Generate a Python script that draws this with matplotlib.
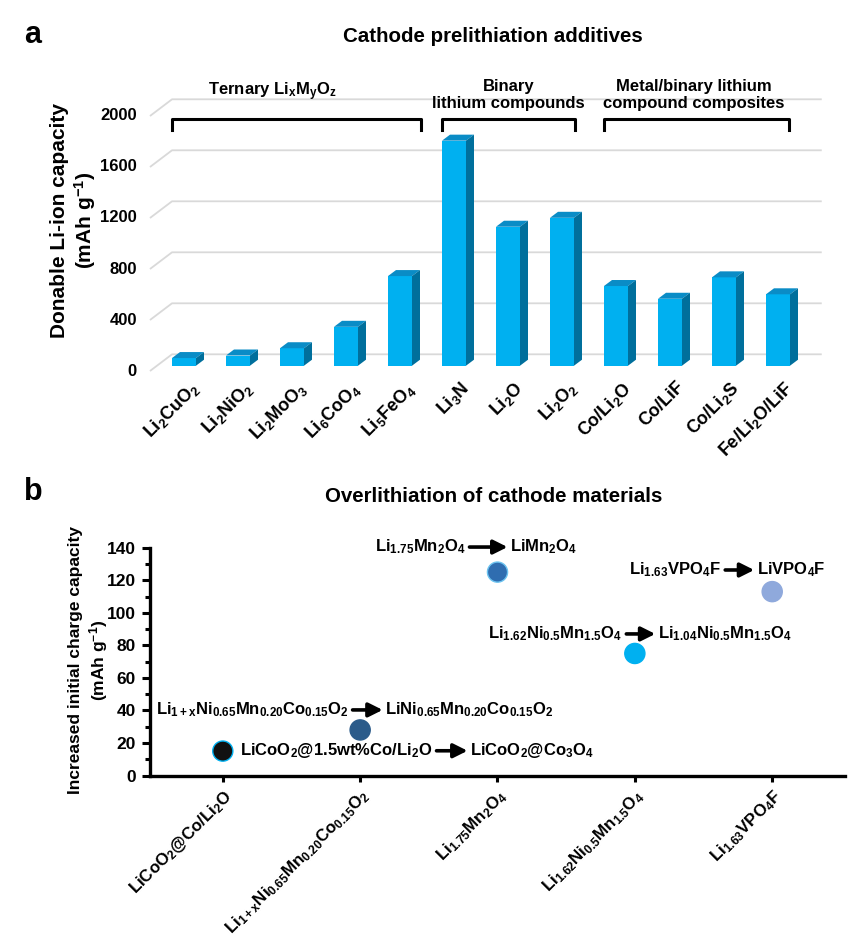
import matplotlib
matplotlib.use('Agg')
import matplotlib.pyplot as plt
from matplotlib.patches import Polygon
from matplotlib.ticker import MultipleLocator

plt.rcParams['font.family'] = ['Liberation Sans', 'DejaVu Sans']
plt.rcParams['font.weight'] = 'bold'
plt.rcParams['mathtext.fontset'] = 'custom'
plt.rcParams['mathtext.rm'] = 'Liberation Sans:bold'
plt.rcParams['mathtext.bf'] = 'Liberation Sans:bold'
plt.rcParams['mathtext.it'] = 'Liberation Sans:bold:italic'
plt.rcParams['mathtext.default'] = 'bf'

# ---------------- data (panel a) ----------------
additives = [r'Li$_2$CuO$_2$', r'Li$_2$NiO$_2$', r'Li$_2$MoO$_3$', r'Li$_6$CoO$_4$',
             r'Li$_5$FeO$_4$', r'Li$_3$N', r'Li$_2$O', r'Li$_2$O$_2$',
             r'Co/Li$_2$O', r'Co/LiF', r'Co/Li$_2$S', r'Fe/Li$_2$O/LiF']
capacity = [60, 80, 137, 305, 703, 1765, 1090, 1160, 625, 525, 693, 560]
yticks_a = [0, 400, 800, 1200, 1600, 2000]
group_names = [r'Ternary Li$_x$M$_y$O$_z$', 'Binary\nlithium compounds',
               'Metal/binary lithium\ncompound composites']
group_first = [0, 5, 8]
group_last = [4, 7, 11]

# ---------------- data (panel b) ----------------
materials = [r'LiCoO$_2$@Co/Li$_2$O',
             r'Li$_{1+x}$Ni$_{0.65}$Mn$_{0.20}$Co$_{0.15}$O$_2$',
             r'Li$_{1.75}$Mn$_2$O$_4$',
             r'Li$_{1.62}$Ni$_{0.5}$Mn$_{1.5}$O$_4$',
             r'Li$_{1.63}$VPO$_4$F']
overlith = [15, 28, 125, 75, 113]
point_colors = ['#111111', '#2b5b8a', '#2f6db0', '#00b0f0', '#8fa9dc']
point_edges = ['#00b0f0', '#2b5b8a', '#6cc3f0', '#00b0f0', '#8fa9dc']
reaction_from = [r'LiCoO$_2$@1.5wt%Co/Li$_2$O',
                 r'Li$_{1+x}$Ni$_{0.65}$Mn$_{0.20}$Co$_{0.15}$O$_2$',
                 r'Li$_{1.75}$Mn$_2$O$_4$',
                 r'Li$_{1.62}$Ni$_{0.5}$Mn$_{1.5}$O$_4$',
                 r'Li$_{1.63}$VPO$_4$F']
reaction_to = [r'LiCoO$_2$@Co$_3$O$_4$',
               r'LiNi$_{0.65}$Mn$_{0.20}$Co$_{0.15}$O$_2$',
               r'LiMn$_2$O$_4$',
               r'Li$_{1.04}$Ni$_{0.5}$Mn$_{1.5}$O$_4$',
               r'LiVPO$_4$F']
yticks_b = [0, 20, 40, 60, 80, 100, 120, 140]

# ---------------- layout ----------------
W, H = 864, 942
fig = plt.figure(figsize=(W / 100, H / 100), dpi=100)


def fx(px):
    return px / W


def fy(py):
    return 1 - py / H


# ---------- panel a : pseudo-3D column chart ----------
ax1 = fig.add_axes([fx(140), fy(372), fx(830) - fx(140), fy(70) - fy(372)])
ax1.set_xlim(-0.8148, 11.963)
ax1.set_ylim(-49.4, 2319.2)
ax1.axis('off')

PXX = 1 / 54.0      # categories per pixel
PXY = 1 / 0.1275    # value units per pixel

wall_dy = 11.4 * PXY
front_dx, front_dy = -0.63, -5.3 * PXY
wall_x0, wall_x1 = -0.222, 11.81
for v in yticks_a:
    ax1.plot([front_dx, wall_x0, wall_x1], [v + front_dy, v + wall_dy, v + wall_dy],
             color='#d9d9d9', lw=1.3, zorder=0, solid_capstyle='butt')
    ax1.text(front_dx - 13 * PXX, v + front_dy, str(v), ha='right', va='center',
             fontsize=12)

bw = 24 * PXX
ddx, ddy = 8 * PXX, 6 * PXY
for i, v in enumerate(capacity):
    ax1.bar(i, v, width=bw, color='#00b0f0', edgecolor='none', zorder=3)
    top = Polygon([(i - bw / 2, v), (i + bw / 2, v), (i + bw / 2 + ddx, v + ddy),
                   (i - bw / 2 + ddx, v + ddy)], closed=True, fc='#0a8cc6', ec='none', zorder=3)
    side = Polygon([(i + bw / 2, 0), (i + bw / 2, v), (i + bw / 2 + ddx, v + ddy),
                    (i + bw / 2 + ddx, ddy)], closed=True, fc='#006f9c', ec='none', zorder=3)
    ax1.add_patch(top)
    ax1.add_patch(side)
    ax1.text(i + 0.1, -100, additives[i], rotation=45, ha='right', va='top',
             rotation_mode='anchor', fontsize=13)

# group brackets
br_right = [4.38, 7.24, 11.21]
br_y, br_tip = 1932, 1849
for k, name in enumerate(group_names):
    x0 = group_first[k] - 0.222
    x1 = br_right[k]
    ax1.plot([x0, x0, x1, x1], [br_tip, br_y, br_y, br_tip], color='black', lw=2.2,
             solid_joinstyle='round', clip_on=False, zorder=4)
    xc = (x0 + x1) / 2
    if k == 0:
        ax1.text(1.64, 2147, name, ha='center', va='center', fontsize=12)
    else:
        ax1.text(xc + (0.0 if k == 1 else -0.05), 2123, name, ha='center', va='center',
                 fontsize=12, linespacing=1.15)

fig.text(fx(74), fy(220), 'Donable Li-ion capacity\n(mAh g$^{-1}$)', rotation=90,
         ha='center', va='center', fontsize=15, linespacing=1.15)
fig.text(fx(24), fy(35), 'a', fontsize=22, ha='left', va='center')
fig.text(fx(493), fy(36), 'Cathode prelithiation additives', fontsize=14.8,
         ha='center', va='center')

# ---------- panel b : scatter ----------
ax2 = fig.add_axes([fx(150), fy(775.5), fx(845) - fx(150), fy(547.7) - fy(775.5)])
xs = list(range(1, len(materials) + 1))
ax2.scatter(xs, overlith, s=210, c=point_colors, edgecolors=point_edges, linewidths=1.0,
            zorder=3, clip_on=False)
ax2.set_xlim(0.47, 5.53)
ax2.set_ylim(0, 140)
for s in ['top', 'right']:
    ax2.spines[s].set_visible(False)
for s in ['left', 'bottom']:
    ax2.spines[s].set_linewidth(2.4)
ax2.set_yticks(yticks_b)
ax2.yaxis.set_minor_locator(MultipleLocator(10))
ax2.tick_params(axis='y', which='major', length=6, width=2.2, labelsize=12.5, pad=4)
ax2.tick_params(axis='y', which='minor', length=3.6, width=2.2)
ax2.set_xticks(xs)
ax2.set_xticklabels(materials, rotation=45, ha='right', rotation_mode='anchor', fontsize=12.2)
ax2.tick_params(axis='x', which='major', length=4, width=2.2, pad=4)

arrow_start = [2.556, 1.945, 2.796, 3.938, 4.658]
arrow_end = [2.782, 2.164, 3.073, 4.149, 4.869]
arrow_y = [15.2, 40.3, 140.4, 87.0, 126.3]
for k in range(len(reaction_from)):
    y = arrow_y[k]
    ax2.annotate('', xy=(arrow_end[k], y), xytext=(arrow_start[k], y),
                 arrowprops=dict(arrowstyle='-|>', lw=2.6, color='black',
                                 mutation_scale=21, shrinkA=0, shrinkB=0),
                 annotation_clip=False)
    ax2.annotate(reaction_from[k], xy=(arrow_start[k], y), xytext=(-3, 0),
                 textcoords='offset points', ha='right', va='center', fontsize=12,
                 annotation_clip=False)
    ax2.annotate(reaction_to[k], xy=(arrow_end[k], y), xytext=(2, 0),
                 textcoords='offset points', ha='left', va='center', fontsize=12,
                 annotation_clip=False)

fig.text(fx(89), fy(660), 'Increased initial charge capacity\n(mAh g$^{-1}$)', rotation=90,
         ha='center', va='center', fontsize=12.5, linespacing=1.2)
fig.text(fx(24), fy(492), 'b', fontsize=22, ha='left', va='center')
fig.text(fx(494), fy(497), 'Overlithiation of cathode materials', fontsize=14.8,
         ha='center', va='center')

fig.savefig('out.png', dpi=100)
